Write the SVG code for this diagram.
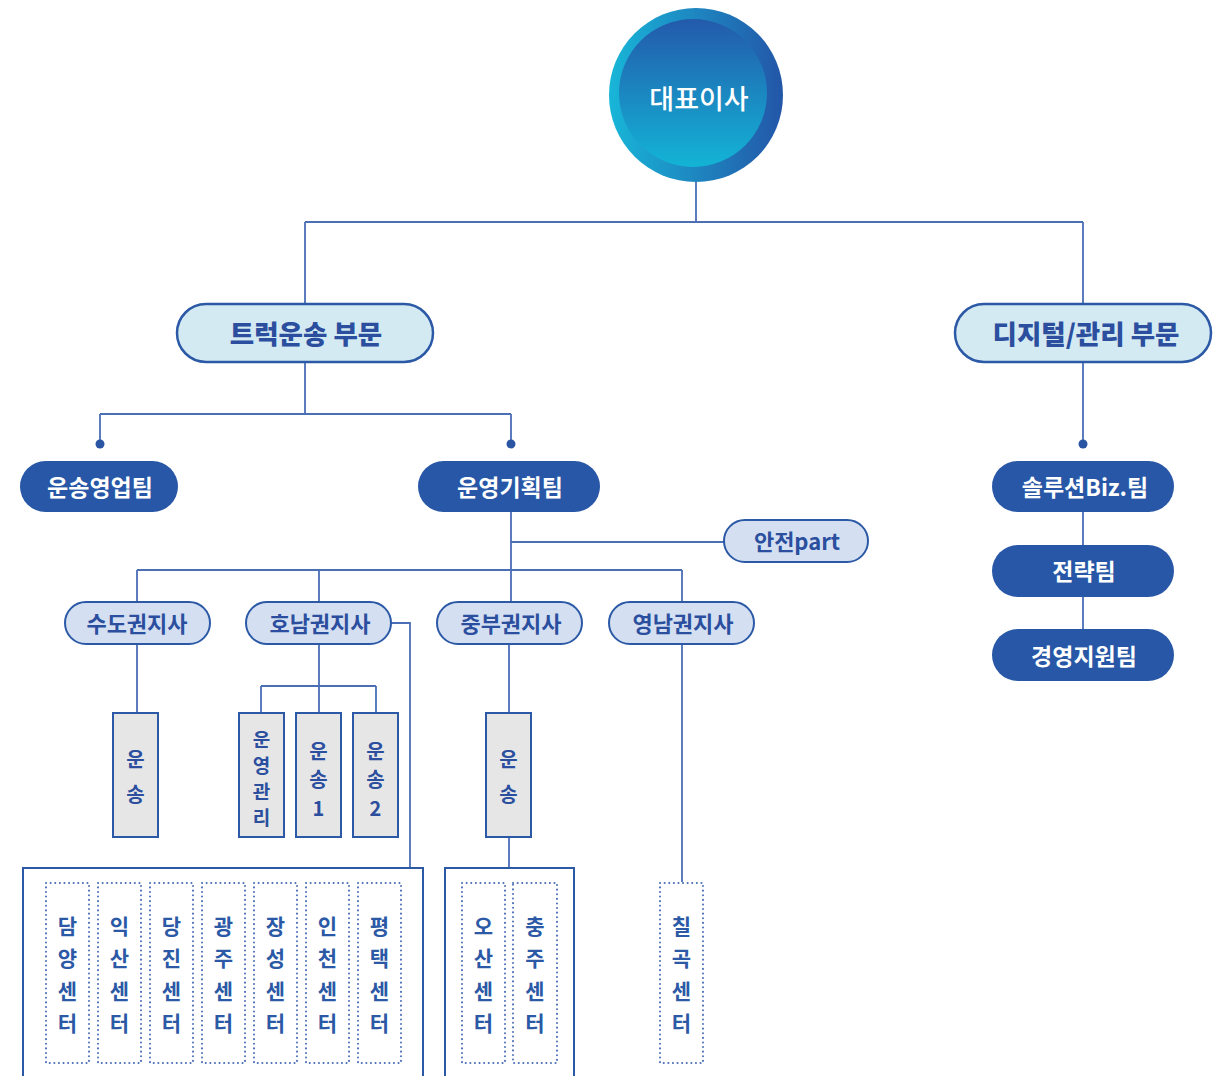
<svg xmlns="http://www.w3.org/2000/svg" width="1220" height="1076" viewBox="0 0 1220 1076">
<defs>
<linearGradient id="ring" x1="0" y1="0" x2="1" y2="0"><stop offset="0" stop-color="#18b6d8"/><stop offset="1" stop-color="#2356a8"/></linearGradient>
<linearGradient id="core" x1="0" y1="0" x2="0" y2="1"><stop offset="0" stop-color="#235aab"/><stop offset="1" stop-color="#13b4d6"/></linearGradient>
<style>
.ln{fill:none;stroke:#4a6fb6;stroke-width:1.8}
.dot{fill:#2a55a3}
.div{fill:#d4eaf3;stroke:#2b59a6;stroke-width:2.5}
.br{fill:#d4e0f2;stroke:#2b59a6;stroke-width:2}
.tm{fill:#2757a6}
.bx{fill:#e6e6e6;stroke:#2b59a6;stroke-width:2}
.big{fill:#fff;stroke:#2b59a6;stroke-width:2}
.dt{fill:none;stroke:#4a6fb6;stroke-width:2;stroke-dasharray:0.1 4.5;stroke-linecap:round}
text{font-family:"Noto Sans CJK KR","Noto Sans",sans-serif;text-anchor:middle;dominant-baseline:central}
.tdiv{font-size:26.5px;font-weight:900;fill:#2b4f9e}
.ttm{font-size:23px;font-weight:700;fill:#fff}
.tbr{font-size:22px;font-weight:700;fill:#2b4f9e}
.tv{font-size:20px;font-weight:700;fill:#2b4f9e}
.tvs{font-size:19px;font-weight:700;fill:#2b4f9e}
.tc{font-size:21px;font-weight:700;fill:#2b59a6}
</style>
</defs>
<rect width="1220" height="1076" fill="#fff"/>
<g id="connectors">
<path class="ln" d="M696 180V222M305 222H1083M305 222V303M1083 222V303"/>
<path class="ln" d="M305 362V414M100 414H511M100 414V444M511 414V444"/>
<path class="ln" d="M1083 362V444M1083 512V629"/>
<path class="ln" d="M511 512V602M511 542H724M137 570H682M137 570V602M319 570V602M682 570V602"/>
<path class="ln" d="M137 644V713M319 644V713M261 686H376M261 686V713M376 686V713M391 623H410V868"/>
<path class="ln" d="M509 644V713M509 837V868M682 644V882"/>
<circle class="dot" cx="100" cy="444" r="4.5"/>
<circle class="dot" cx="511" cy="444" r="4.5"/>
<circle class="dot" cx="1083" cy="444" r="4.5"/>
</g>
<g id="ceo">
<circle cx="696" cy="95" r="87" fill="url(#ring)"/>
<circle cx="693" cy="93" r="74" fill="url(#core)"/>
<text x="699" y="97" style="font-size:27px;font-weight:500;fill:#fff">대표이사</text>
</g>
<g id="truck">
<rect class="div" x="177" y="304" width="256" height="58" rx="29"/>
<text class="tdiv" x="306" y="332">트럭운송 부문</text>
</g>
<g id="digital">
<rect class="div" x="955" y="304" width="256" height="58" rx="29"/>
<text class="tdiv" x="1086" y="332">디지털/관리 부문</text>
</g>
<g id="sales">
<rect class="tm" x="20" y="461" width="158" height="51" rx="25.5"/>
<text class="ttm" x="100" y="486">운송영업팀</text>
</g>
<g id="ops">
<rect class="tm" x="418" y="461" width="182" height="51" rx="25.5"/>
<text class="ttm" x="510" y="486">운영기획팀</text>
</g>
<g id="solution">
<rect class="tm" x="992" y="461" width="182" height="51" rx="25.5"/>
<text class="ttm" x="1085" y="486">솔루션Biz.팀</text>
</g>
<g id="strategy">
<rect class="tm" x="992" y="545" width="182" height="52" rx="26"/>
<text class="ttm" x="1084" y="570">전략팀</text>
</g>
<g id="support">
<rect class="tm" x="992" y="629" width="182" height="52" rx="26"/>
<text class="ttm" x="1084" y="655">경영지원팀</text>
</g>
<g id="safety">
<rect class="br" x="724" y="520" width="144" height="42" rx="21"/>
<text class="tbr" x="797" y="540">안전part</text>
</g>
<g id="sudo">
<rect class="br" x="65" y="602" width="145" height="42" rx="21"/>
<text class="tbr" x="137" y="622">수도권지사</text>
</g>
<g id="honam">
<rect class="br" x="246" y="602" width="145" height="42" rx="21"/>
<text class="tbr" x="320" y="622">호남권지사</text>
</g>
<g id="jungbu">
<rect class="br" x="437" y="602" width="145" height="42" rx="21"/>
<text class="tbr" x="511" y="622">중부권지사</text>
</g>
<g id="yeongnam">
<rect class="br" x="609" y="602" width="145" height="42" rx="21"/>
<text class="tbr" x="683" y="622">영남권지사</text>
</g>
<g id="sudo-transport">
<rect class="bx" x="113" y="713" width="45" height="124"/>
<text class="tv" x="135.5" y="758">운</text><text class="tv" x="135.5" y="793">송</text>
</g>
<g id="honam-mgmt">
<rect class="bx" x="239" y="713" width="45" height="124"/>
<text class="tvs" x="261.5" y="738">운</text><text class="tvs" x="261.5" y="764">영</text><text class="tvs" x="261.5" y="790">관</text><text class="tvs" x="261.5" y="816">리</text>
</g>
<g id="honam-t1">
<rect class="bx" x="296" y="713" width="45" height="124"/>
<text class="tv" x="318.5" y="750">운</text><text class="tv" x="318.5" y="778">송</text><text class="tv" x="318.5" y="807">1</text>
</g>
<g id="honam-t2">
<rect class="bx" x="353" y="713" width="45" height="124"/>
<text class="tv" x="375.5" y="750">운</text><text class="tv" x="375.5" y="778">송</text><text class="tv" x="375.5" y="807">2</text>
</g>
<g id="jungbu-transport">
<rect class="bx" x="486" y="713" width="45" height="124"/>
<text class="tv" x="508.5" y="758">운</text><text class="tv" x="508.5" y="793">송</text>
</g>
<g id="honam-centers">
<rect class="big" x="23" y="868" width="400" height="220"/>
<g id="c-damyang"><rect class="dt" x="46" y="883" width="43" height="180"/><text class="tc" x="67.5" y="925">담</text><text class="tc" x="67.5" y="957">양</text><text class="tc" x="67.5" y="990">센</text><text class="tc" x="67.5" y="1022">터</text></g>
<g id="c-iksan"><rect class="dt" x="98" y="883" width="43" height="180"/><text class="tc" x="119.5" y="925">익</text><text class="tc" x="119.5" y="957">산</text><text class="tc" x="119.5" y="990">센</text><text class="tc" x="119.5" y="1022">터</text></g>
<g id="c-dangjin"><rect class="dt" x="150" y="883" width="43" height="180"/><text class="tc" x="171.5" y="925">당</text><text class="tc" x="171.5" y="957">진</text><text class="tc" x="171.5" y="990">센</text><text class="tc" x="171.5" y="1022">터</text></g>
<g id="c-gwangju"><rect class="dt" x="202" y="883" width="43" height="180"/><text class="tc" x="223.5" y="925">광</text><text class="tc" x="223.5" y="957">주</text><text class="tc" x="223.5" y="990">센</text><text class="tc" x="223.5" y="1022">터</text></g>
<g id="c-jangseong"><rect class="dt" x="254" y="883" width="43" height="180"/><text class="tc" x="275.5" y="925">장</text><text class="tc" x="275.5" y="957">성</text><text class="tc" x="275.5" y="990">센</text><text class="tc" x="275.5" y="1022">터</text></g>
<g id="c-incheon"><rect class="dt" x="306" y="883" width="43" height="180"/><text class="tc" x="327.5" y="925">인</text><text class="tc" x="327.5" y="957">천</text><text class="tc" x="327.5" y="990">센</text><text class="tc" x="327.5" y="1022">터</text></g>
<g id="c-pyeongtaek"><rect class="dt" x="358" y="883" width="43" height="180"/><text class="tc" x="379.5" y="925">평</text><text class="tc" x="379.5" y="957">택</text><text class="tc" x="379.5" y="990">센</text><text class="tc" x="379.5" y="1022">터</text></g>
</g>
<g id="jungbu-centers">
<rect class="big" x="445" y="868" width="129" height="220"/>
<g id="c-osan"><rect class="dt" x="462" y="883" width="43" height="180"/><text class="tc" x="483.5" y="925">오</text><text class="tc" x="483.5" y="957">산</text><text class="tc" x="483.5" y="990">센</text><text class="tc" x="483.5" y="1022">터</text></g>
<g id="c-chungju"><rect class="dt" x="513" y="883" width="44" height="180"/><text class="tc" x="535" y="925">충</text><text class="tc" x="535" y="957">주</text><text class="tc" x="535" y="990">센</text><text class="tc" x="535" y="1022">터</text></g>
</g>
<g id="c-chilgok">
<rect class="dt" x="660" y="883" width="43" height="180"/><text class="tc" x="681.5" y="925">칠</text><text class="tc" x="681.5" y="957">곡</text><text class="tc" x="681.5" y="990">센</text><text class="tc" x="681.5" y="1022">터</text>
</g>
</svg>
